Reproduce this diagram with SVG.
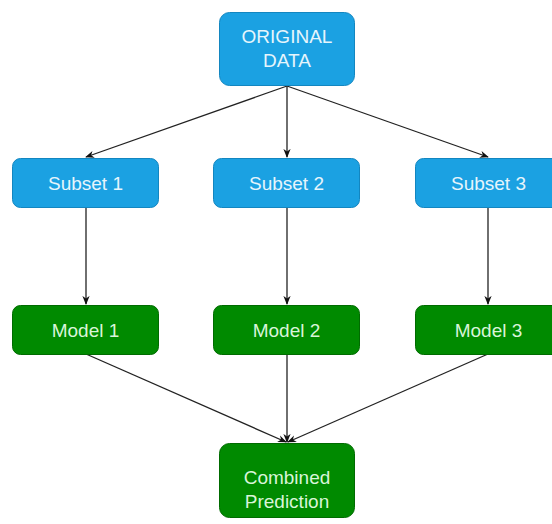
<svg xmlns="http://www.w3.org/2000/svg" width="552" height="524" viewBox="0 0 552 524">
<defs>
<style>
.blue{fill:#1ba1e2;stroke:#1386c0;stroke-width:1}
.green{fill:#008a00;stroke:#006b00;stroke-width:1}
.t{font-family:"Liberation Sans",Arial,sans-serif;font-size:19px;text-anchor:middle;dominant-baseline:central}
.tb{fill:#e6f5fc}
.tg{fill:#d9f5d9}
.c{stroke:#222;stroke-width:1.3;fill:none;marker-end:url(#a)}
</style>
<marker id="a" viewBox="0 0 10 10" refX="9" refY="5" markerWidth="9" markerHeight="9" orient="auto" markerUnits="userSpaceOnUse">
<path d="M0,1 L10,5 L0,9 L3,5 Z" fill="#111"/>
</marker>
</defs>
<rect width="552" height="524" fill="#fff"/>
<g id="connectors">
<line class="c" x1="287" y1="86" x2="86" y2="157"/>
<line class="c" x1="287" y1="86" x2="287" y2="157"/>
<line class="c" x1="287" y1="86" x2="488" y2="157"/>
<line class="c" x1="86" y1="207" x2="86" y2="304"/>
<line class="c" x1="287" y1="207" x2="287" y2="304"/>
<line class="c" x1="488" y1="207" x2="488" y2="304"/>
<line class="c" x1="86" y1="354" x2="286" y2="442"/>
<line class="c" x1="287" y1="354" x2="287" y2="442"/>
<line class="c" x1="488" y1="354" x2="288" y2="442"/>
</g>
<g id="original">
<rect class="blue" x="219.5" y="12.5" width="135" height="73" rx="10"/>
<text class="t tb" x="287" y="36">ORIGINAL</text>
<text class="t tb" x="287" y="60">DATA</text>
</g>
<g id="subset1">
<rect class="blue" x="12.5" y="158.5" width="146" height="49" rx="8"/>
<text class="t tb" x="85.5" y="183">Subset 1</text>
</g>
<g id="subset2">
<rect class="blue" x="213.5" y="158.5" width="146" height="49" rx="8"/>
<text class="t tb" x="286.5" y="183">Subset 2</text>
</g>
<g id="subset3">
<rect class="blue" x="415.5" y="158.5" width="146" height="49" rx="8"/>
<text class="t tb" x="488.5" y="183">Subset 3</text>
</g>
<g id="model1">
<rect class="green" x="12.5" y="305.5" width="146" height="49" rx="8"/>
<text class="t tg" x="85.5" y="330">Model 1</text>
</g>
<g id="model2">
<rect class="green" x="213.5" y="305.5" width="146" height="49" rx="8"/>
<text class="t tg" x="286.5" y="330">Model 2</text>
</g>
<g id="model3">
<rect class="green" x="415.5" y="305.5" width="146" height="49" rx="8"/>
<text class="t tg" x="488.5" y="330">Model 3</text>
</g>
<g id="combined">
<rect class="green" x="219.5" y="443.5" width="135" height="74" rx="10"/>
<text class="t tg" x="287" y="477">Combined</text>
<text class="t tg" x="287" y="501">Prediction</text>
</g>
</svg>
